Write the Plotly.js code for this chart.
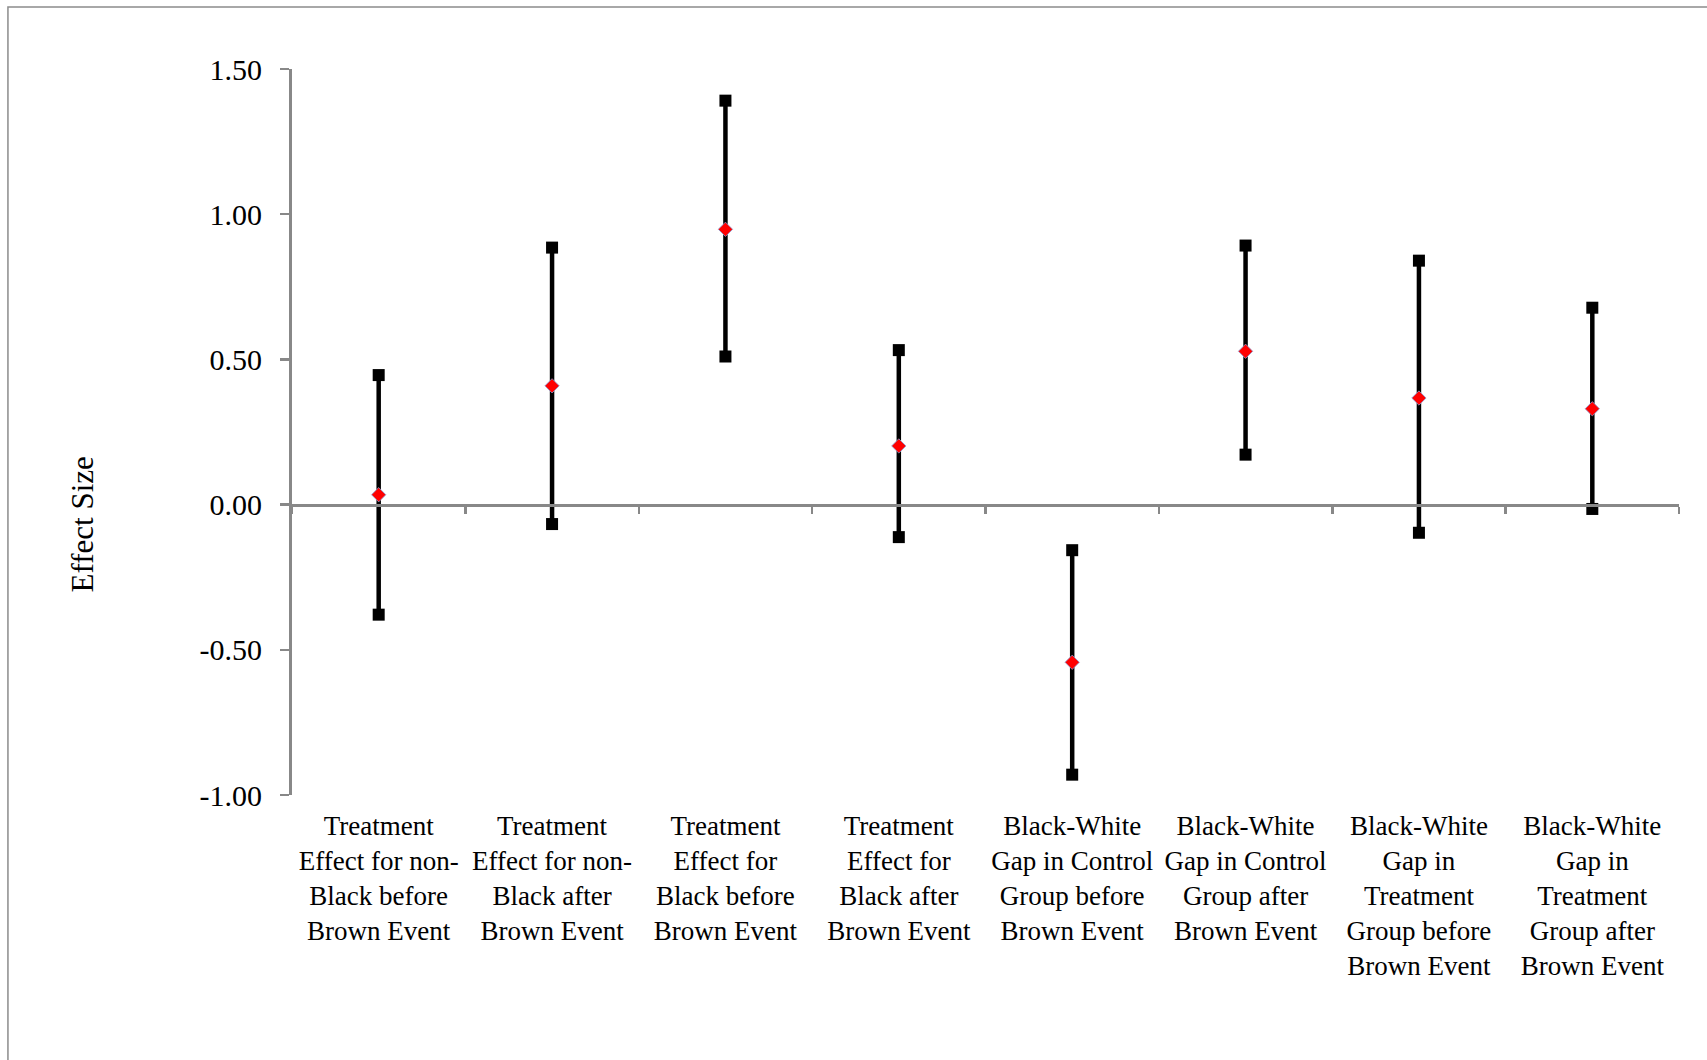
<!DOCTYPE html>
<html>
<head>
<meta charset="utf-8">
<script src="https://cdn.plot.ly/plotly-3.0.1.min.js"></script>
<style>
  html, body { margin: 0; padding: 0; background: #ffffff; }
  #chart { width: 1707px; height: 1060px; }
</style>
</head>
<body>
<div id="chart"></div>
<script>
// ---- Data ----
const categories = [
  "Treatment<br>Effect for non-<br>Black before<br>Brown Event",
  "Treatment<br>Effect for non-<br>Black after<br>Brown Event",
  "Treatment<br>Effect for<br>Black before<br>Brown Event",
  "Treatment<br>Effect for<br>Black after<br>Brown Event",
  "Black-White<br>Gap in Control<br>Group before<br>Brown Event",
  "Black-White<br>Gap in Control<br>Group after<br>Brown Event",
  "Black-White<br>Gap in<br>Treatment<br>Group before<br>Brown Event",
  "Black-White<br>Gap in<br>Treatment<br>Group after<br>Brown Event"
];
const upperBound = [0.446, 0.885, 1.391, 0.532, -0.157, 0.892, 0.840, 0.678];
const estimate   = [0.034, 0.409, 0.948, 0.202, -0.543, 0.528, 0.367, 0.330];
const lowerBound = [-0.379, -0.067, 0.510, -0.112, -0.930, 0.172, -0.097, -0.015];

const yTickValues = [-1, -0.5, 0, 0.5, 1, 1.5];
const yTickLabels = ["-1.00", "-0.50", "0.00", "0.50", "1.00", "1.50"];
const yAxisTitle = "Effect Size";

// ---- Derived error bar sizes ----
const errPlus = upperBound.map((u, i) => u - estimate[i]);
const errMinus = lowerBound.map((l, i) => estimate[i] - l);

const serif = "'Liberation Serif', 'Times New Roman', serif";
const axisGray = "#888888";

const traces = [
  // invisible trace for the labelled bottom axis
  {
    x: categories, y: estimate, xaxis: "x", yaxis: "y",
    type: "scatter", mode: "markers",
    marker: { opacity: 0, size: 1 }, hoverinfo: "skip", showlegend: false
  },
  // vertical interval lines
  {
    x: categories, y: estimate, xaxis: "x2", yaxis: "y",
    type: "scatter", mode: "markers",
    marker: { opacity: 0, size: 1 },
    error_y: {
      type: "data", symmetric: false,
      array: errPlus, arrayminus: errMinus,
      color: "#000000", thickness: 4.5, width: 0
    },
    hoverinfo: "skip", showlegend: false
  },
  // upper bound squares
  {
    x: categories, y: upperBound, xaxis: "x2", yaxis: "y",
    type: "scatter", mode: "markers",
    marker: { symbol: "square", size: 12, color: "#000000" },
    showlegend: false
  },
  // lower bound squares
  {
    x: categories, y: lowerBound, xaxis: "x2", yaxis: "y",
    type: "scatter", mode: "markers",
    marker: { symbol: "square", size: 12, color: "#000000" },
    showlegend: false
  },
  // point estimates
  {
    x: categories, y: estimate, xaxis: "x2", yaxis: "y",
    type: "scatter", mode: "markers",
    marker: { symbol: "diamond", size: 11, color: "#ff0000",
              line: { color: "#8a9ad0", width: 0.8 } },
    showlegend: false
  }
];

const layout = {
  width: 1707, height: 1060,
  margin: { l: 292, r: 28, t: 69, b: 265 },
  paper_bgcolor: "#ffffff", plot_bgcolor: "#ffffff",
  showlegend: false,
  font: { family: serif, color: "#000000" },
  xaxis: {
    type: "category", categoryorder: "array", categoryarray: categories,
    range: [-0.5, 7.5], anchor: "y",
    showline: false, ticks: "", showgrid: false, zeroline: false,
    showticklabels: true, tickangle: 0,
    tickfont: { family: serif, size: 27, color: "#000000" },
    ticklabelstandoff: 12
  },
  xaxis2: {
    type: "category", categoryorder: "array", categoryarray: categories,
    range: [-0.5, 7.5], overlaying: "x", anchor: "free", position: 0.4,
    side: "bottom",
    showline: true, linecolor: axisGray, linewidth: 3,
    ticks: "outside", tickson: "boundaries", ticklen: 7, tickwidth: 2.5, tickcolor: axisGray,
    showticklabels: false, showgrid: false, zeroline: false
  },
  yaxis: {
    range: [-1, 1.5], domain: [0, 1],
    showline: true, linecolor: axisGray, linewidth: 3,
    ticks: "outside", ticklen: 9, tickwidth: 2.5, tickcolor: axisGray,
    tickmode: "array", tickvals: yTickValues, ticktext: yTickLabels,
    tickfont: { family: serif, size: 30, color: "#000000" },
    ticklabelstandoff: 12,
    showgrid: false, zeroline: false
  },
  annotations: [
    {
      text: yAxisTitle, xref: "paper", yref: "paper",
      x: -0.1507, y: 0.3726, textangle: -90, showarrow: false,
      xanchor: "center", yanchor: "middle",
      font: { family: serif, size: 31, color: "#000000" }
    }
  ],
  shapes: [
    {
      type: "rect", xref: "paper", yref: "paper",
      x0: -0.2048, x1: 1.03, y0: -0.40, y1: 1.0854,
      line: { color: "#8c8c8c", width: 1.5 }, fillcolor: "rgba(0,0,0,0)",
      layer: "below"
    }
  ]
};

Plotly.newPlot("chart", traces, layout, { displayModeBar: false, staticPlot: true });
</script>
</body>
</html>
